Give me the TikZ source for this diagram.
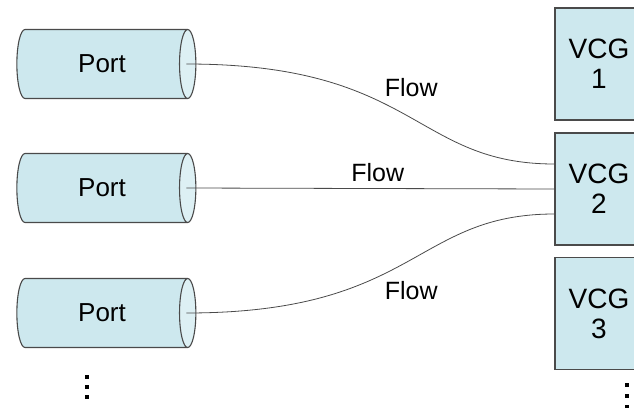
\documentclass[tikz,border=0pt]{standalone}
\usepackage{fontspec}
\setmainfont{Liberation Sans}
\usetikzlibrary{shapes.geometric}

\definecolor{bodyblue}{HTML}{CDE8EE}
\definecolor{endblue}{HTML}{DDF0F4}
\definecolor{edgegray}{HTML}{4A4A4A}

\begin{document}
\begin{tikzpicture}[
  x=1pt, y=-1pt,
  port/.style={cylinder, draw=edgegray, line width=1.1pt, cylinder uses custom fill,
    cylinder body fill=bodyblue, cylinder end fill=endblue, aspect=0.9,
    minimum height=179pt, minimum width=69pt, inner sep=0pt,
    font=\fontsize{26}{28}\selectfont},
  vcg/.style={draw=edgegray, line width=1.1pt, fill=bodyblue, minimum width=88pt,
    minimum height=112pt, align=center, inner sep=0pt, font=\fontsize{28}{30}\selectfont},
  flow/.style={draw=edgegray, line width=0.8pt},
  lbl/.style={font=\fontsize{25}{25}\selectfont, inner sep=0pt}
]
\useasboundingbox (0,0) rectangle (634,407);

\node[port] (p1) at (102,64) {Port};
\node[port] (p2) at (102,188) {Port};
\node[port] (p3) at (102,313) {Port};

\node[vcg] (v1) at (599,64) {VCG\\1};
\node[vcg] (v2) at (599,189) {VCG\\2};
\node[vcg] (v3) at (599,313.5) {VCG\\3};

% flows into VCG 2
\draw[flow] ([xshift=-10pt]p1.top) .. controls +(231,0) and +(-141,0) ..
  node[lbl, pos=0.5, xshift=7pt, yshift=26pt] {Flow} ([yshift=25pt]v2.west);
\draw[flow] ([xshift=-10pt]p2.top) -- node[lbl, pos=0.52, above=6pt] {Flow} (v2.west);
\draw[flow] ([xshift=-10pt]p3.top) .. controls +(231,0) and +(-141,0) ..
  node[lbl, pos=0.5, xshift=7pt, yshift=-27pt] {Flow} ([yshift=-25pt]v2.west);

% more ports and VCGs
\foreach \y in {375,385,395} \fill (85,\y) rectangle ++(4,4);
\foreach \y in {383,394,405} \fill (625,\y) rectangle ++(4,4);
\end{tikzpicture}
\end{document}
